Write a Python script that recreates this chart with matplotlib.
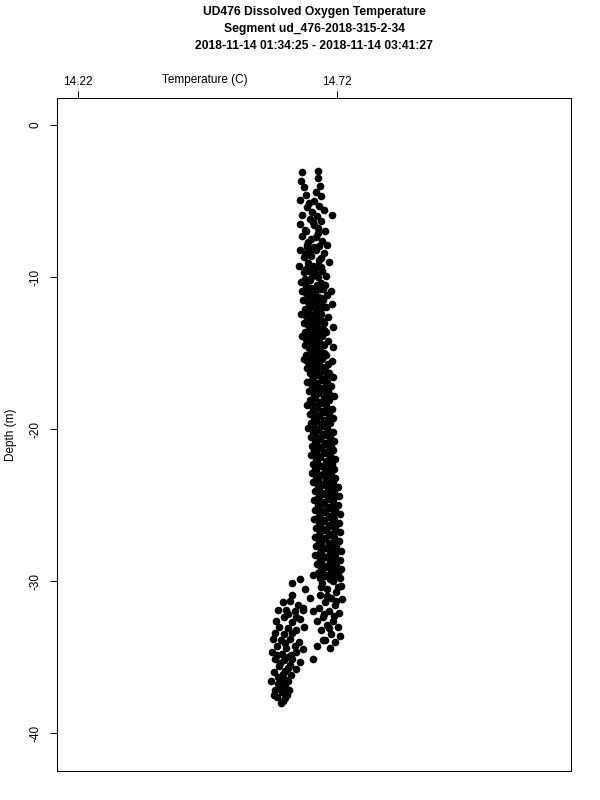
import matplotlib
matplotlib.use("Agg")
import matplotlib.pyplot as plt

# Readings, as (temperature C, depth m).
column_top = [
    (14.652, -3.1), (14.684, -3.0), (14.683, -3.5), (14.651, -3.7),
    (14.688, -4.0), (14.656, -4.1), (14.680, -4.4), (14.661, -4.6),
    (14.690, -4.7), (14.649, -4.9), (14.676, -5.0), (14.665, -5.1),
    (14.686, -5.3), (14.663, -5.4), (14.694, -5.6), (14.672, -5.7),
    (14.652, -5.9), (14.681, -6.0), (14.711, -5.9), (14.667, -6.2),
    (14.689, -6.3), (14.674, -6.4), (14.648, -6.5), (14.676, -6.6),
    (14.683, -6.8), (14.659, -6.9), (14.697, -7.0), (14.683, -7.1),
    (14.653, -7.3), (14.670, -7.5), (14.691, -7.6), (14.664, -7.7),
    (14.701, -7.9), (14.662, -7.9), (14.675, -8.0), (14.648, -8.2),
    (14.679, -8.2), (14.694, -8.4), (14.660, -8.4), (14.670, -8.6),
    (14.656, -8.7), (14.686, -8.9), (14.705, -9.0), (14.664, -9.1),
    (14.683, -9.2), (14.647, -9.3), (14.677, -9.4), (14.692, -9.6),
    (14.666, -9.6), (14.657, -9.7), (14.671, -9.9), (14.699, -9.9),
    (14.684, -10.0), (14.658, -10.1),
    (14.660, -7.0), (14.680, -7.35), (14.668, -8.3), (14.690, -8.75),
    (14.673, -9.25), (14.660, -9.5), (14.689, -9.35), (14.678, -9.75),
    (14.662, -8.05), (14.686, -7.95),
]

column_mid = [
    (14.650, -10.3), (14.668, -10.2), (14.690, -10.4),
    (14.660, -10.6), (14.679, -10.7), (14.697, -10.5),
    (14.652, -10.9), (14.673, -11.0), (14.688, -10.8), (14.709, -10.9),
    (14.664, -11.2), (14.684, -11.3), (14.700, -11.2),
    (14.655, -11.5), (14.676, -11.6), (14.693, -11.5),
    (14.668, -11.8), (14.687, -11.9), (14.711, -11.8),
    (14.658, -12.1), (14.680, -12.2), (14.698, -12.0),
    (14.651, -12.4), (14.671, -12.5), (14.690, -12.4),
    (14.664, -12.7), (14.683, -12.8), (14.702, -12.6),
    (14.656, -13.0), (14.676, -13.1), (14.694, -13.0),
    (14.668, -13.3), (14.688, -13.4), (14.712, -13.3),
    (14.659, -13.6), (14.679, -13.7), (14.698, -13.6),
    (14.653, -13.9), (14.672, -14.0), (14.691, -13.9),
    (14.665, -14.2), (14.685, -14.3), (14.703, -14.2),
    (14.658, -14.5), (14.677, -14.6), (14.695, -14.5), (14.712, -14.6),
    (14.669, -14.8), (14.689, -14.9),
    (14.661, -15.1), (14.680, -15.2), (14.699, -15.1),
    (14.656, -15.4), (14.674, -15.5), (14.692, -15.4), (14.710, -15.5),
    (14.668, -15.7), (14.686, -15.8), (14.703, -15.7),
    (14.662, -16.0), (14.680, -16.1), (14.697, -16.0),
]

column_mid_fill = [
    (14.661, -10.45), (14.681, -10.5), (14.670, -10.75), (14.693, -10.8),
    (14.660, -11.05), (14.678, -11.1), (14.668, -11.35), (14.690, -11.4),
    (14.664, -11.65), (14.681, -11.7), (14.672, -11.95), (14.693, -12.0),
    (14.664, -12.25), (14.688, -12.3), (14.660, -12.55), (14.678, -12.6),
    (14.670, -12.85), (14.692, -12.9), (14.664, -13.15), (14.682, -13.2),
    (14.673, -13.45), (14.694, -13.5), (14.665, -13.75), (14.686, -13.8),
    (14.660, -14.05), (14.680, -14.1), (14.671, -14.35), (14.690, -14.4),
    (14.665, -14.65), (14.683, -14.7), (14.675, -14.95), (14.694, -15.0),
    (14.668, -15.25), (14.686, -15.3), (14.663, -15.55), (14.680, -15.6),
    (14.674, -15.85), (14.692, -15.9),
]

column_deep = [
    (14.667, -16.3), (14.686, -16.4), (14.705, -16.3),
    (14.674, -16.6), (14.693, -16.7), (14.713, -16.6),
    (14.663, -16.9), (14.682, -17.0), (14.700, -16.9),
    (14.671, -17.2), (14.690, -17.3), (14.708, -17.2),
    (14.665, -17.5), (14.684, -17.6), (14.702, -17.5),
    (14.675, -17.8), (14.694, -17.9), (14.714, -17.8),
    (14.668, -18.1), (14.687, -18.2), (14.705, -18.1),
    (14.662, -18.4), (14.680, -18.5), (14.699, -18.4),
    (14.673, -18.7), (14.692, -18.8), (14.711, -18.7),
    (14.667, -19.0), (14.686, -19.1), (14.704, -19.0),
    (14.676, -19.3), (14.695, -19.4), (14.713, -19.3),
    (14.670, -19.6), (14.689, -19.7), (14.707, -19.6),
    (14.664, -19.9), (14.682, -20.0), (14.701, -19.9),
    (14.674, -20.2), (14.693, -20.3), (14.712, -20.2),
    (14.669, -20.5), (14.688, -20.6), (14.706, -20.5),
    (14.678, -20.8), (14.697, -20.9), (14.715, -20.8),
    (14.671, -21.1), (14.690, -21.2), (14.709, -21.1),
    (14.676, -21.4), (14.695, -21.5), (14.713, -21.4),
    (14.670, -21.7), (14.688, -21.8), (14.707, -21.7),
    (14.679, -22.0), (14.698, -22.1), (14.716, -22.0),
    (14.673, -22.3), (14.692, -22.4), (14.710, -22.3),
    (14.677, -22.6), (14.696, -22.7), (14.714, -22.6),
    (14.671, -22.9), (14.690, -23.0), (14.708, -22.9),
    (14.680, -23.2), (14.699, -23.3), (14.717, -23.2),
    (14.674, -23.5), (14.693, -23.6), (14.712, -23.5),
    (14.683, -23.8), (14.702, -23.9), (14.721, -23.8),
    (14.677, -24.1), (14.696, -24.2), (14.714, -24.1),
    (14.686, -24.4), (14.705, -24.5), (14.724, -24.4),
    (14.675, -24.7), (14.694, -24.8), (14.713, -24.7),
    (14.684, -25.0), (14.703, -25.1), (14.722, -25.0),
    (14.678, -25.3), (14.697, -25.4), (14.716, -25.3),
    (14.687, -25.6), (14.706, -25.7), (14.725, -25.6),
    (14.676, -25.9), (14.695, -26.0), (14.714, -25.9),
    (14.685, -26.2), (14.704, -26.3), (14.723, -26.2),
    (14.679, -26.5), (14.698, -26.6), (14.717, -26.5),
    (14.688, -26.8), (14.707, -26.9), (14.726, -26.8),
    (14.677, -27.1), (14.696, -27.2), (14.715, -27.1),
    (14.686, -27.4), (14.705, -27.5), (14.724, -27.4),
    (14.680, -27.7), (14.699, -27.8), (14.718, -27.7),
    (14.689, -28.0), (14.708, -28.1), (14.727, -28.0),
    (14.678, -28.3), (14.697, -28.4), (14.716, -28.3),
    (14.687, -28.6), (14.706, -28.7), (14.725, -28.6),
    (14.681, -28.9), (14.700, -29.0), (14.719, -28.9),
    (14.690, -29.2), (14.709, -29.3), (14.728, -29.2),
    (14.683, -29.5), (14.702, -29.6), (14.721, -29.5),
    (14.688, -29.8), (14.707, -29.9), (14.726, -29.8),
]

column_deep_fill = [
    (14.676, -16.15), (14.695, -16.2), (14.683, -16.45), (14.700, -16.5),
    (14.672, -16.75), (14.691, -16.8), (14.680, -17.05), (14.699, -17.1),
    (14.675, -17.35), (14.693, -17.4), (14.684, -17.65), (14.704, -17.7),
    (14.677, -17.95), (14.696, -18.0), (14.671, -18.25), (14.690, -18.3),
    (14.682, -18.55), (14.701, -18.6), (14.676, -18.85), (14.695, -18.9),
    (14.685, -19.15), (14.704, -19.2), (14.679, -19.45), (14.698, -19.5),
    (14.673, -19.75), (14.692, -19.8), (14.683, -20.05), (14.702, -20.1),
    (14.678, -20.35), (14.697, -20.4), (14.687, -20.65), (14.706, -20.7),
    (14.680, -20.95), (14.699, -21.0), (14.685, -21.25), (14.704, -21.3),
    (14.679, -21.55), (14.698, -21.6), (14.688, -21.85), (14.707, -21.9),
    (14.682, -22.15), (14.701, -22.2), (14.686, -22.45), (14.705, -22.5),
    (14.680, -22.75), (14.699, -22.8), (14.689, -23.05), (14.708, -23.1),
    (14.683, -23.35), (14.703, -23.4),
    (14.692, -23.65), (14.711, -23.7), (14.686, -23.95), (14.705, -24.0),
    (14.695, -24.25), (14.714, -24.3), (14.684, -24.55), (14.703, -24.6),
    (14.693, -24.85), (14.712, -24.9), (14.687, -25.15), (14.706, -25.2),
    (14.696, -25.45), (14.715, -25.5), (14.685, -25.75), (14.704, -25.8),
    (14.694, -26.05), (14.713, -26.1), (14.688, -26.35), (14.707, -26.4),
    (14.697, -26.65), (14.716, -26.7), (14.686, -26.95), (14.705, -27.0),
    (14.695, -27.25), (14.714, -27.3), (14.689, -27.55), (14.708, -27.6),
    (14.698, -27.85), (14.717, -27.9), (14.687, -28.15), (14.706, -28.2),
    (14.696, -28.45), (14.715, -28.5), (14.690, -28.75), (14.709, -28.8),
    (14.699, -29.05), (14.718, -29.1), (14.692, -29.35), (14.711, -29.4),
    (14.697, -29.65), (14.716, -29.7),
]

column_bottom = [
    (14.692, -30.1), (14.712, -30.0), (14.727, -30.3), (14.700, -30.5),
    (14.719, -30.7), (14.688, -30.9), (14.708, -31.1), (14.729, -31.2),
    (14.696, -31.4), (14.716, -31.6), (14.685, -31.8), (14.705, -32.0),
    (14.724, -32.1), (14.693, -32.4), (14.712, -32.6), (14.700, -32.9),
    (14.721, -33.0), (14.690, -33.2), (14.708, -33.5), (14.726, -33.6),
    (14.697, -33.9), (14.716, -34.0), (14.706, -34.4),
    (14.700, -31.0), (14.718, -31.3), (14.695, -32.2), (14.715, -32.3),
    (14.704, -33.1), (14.690, -30.4), (14.722, -30.4),
]

spread = [
    (14.674, -29.6), (14.649, -29.9), (14.633, -30.1), (14.658, -30.5),
    (14.633, -30.9), (14.668, -31.1), (14.654, -31.8), (14.674, -32.0),
    (14.681, -32.6), (14.693, -33.9), (14.681, -34.3), (14.674, -35.1),
]

bottom_cluster = [
    (14.616, -31.4), (14.630, -31.3), (14.645, -31.6), (14.622, -31.9),
    (14.638, -32.0), (14.655, -31.9), (14.602, -32.6), (14.617, -32.4),
    (14.633, -32.7), (14.648, -32.5), (14.609, -33.0), (14.625, -33.1),
    (14.641, -33.2), (14.657, -33.0), (14.600, -33.4), (14.618, -33.5),
    (14.596, -33.8), (14.612, -33.9), (14.630, -33.8), (14.646, -34.0),
    (14.605, -34.3), (14.622, -34.4), (14.638, -34.3), (14.654, -34.5),
    (14.594, -34.7), (14.614, -34.8), (14.631, -34.9), (14.600, -35.1),
    (14.617, -35.2), (14.634, -35.1), (14.648, -35.3), (14.608, -35.6),
    (14.625, -35.7), (14.641, -35.8), (14.598, -36.0), (14.615, -36.1),
    (14.632, -36.2), (14.622, -36.5), (14.593, -36.6), (14.607, -36.8),
    (14.620, -36.9), (14.600, -37.2), (14.614, -37.3), (14.628, -37.2),
    (14.605, -37.6), (14.619, -37.7), (14.611, -38.0),
    (14.606, -31.9), (14.640, -32.4), (14.626, -32.2), (14.634, -33.4),
    (14.620, -34.1), (14.605, -34.9), (14.625, -35.0), (14.640, -34.7),
    (14.610, -35.4), (14.630, -35.5), (14.620, -35.9), (14.607, -36.3),
    (14.626, -36.6), (14.612, -37.0), (14.598, -37.5), (14.624, -37.5),
    (14.615, -37.9), (14.612, -36.6),
]

temp_ticks = [14.22, 14.72]
depth_ticks = [0, -10, -20, -30, -40]

title_lines = [
    "UD476 Dissolved Oxygen Temperature",
    "Segment ud_476-2018-315-2-34",
    "2018-11-14 01:34:25 - 2018-11-14 03:41:27",
]

plt.rcParams["font.family"] = ["Liberation Sans", "DejaVu Sans"]

fig = plt.figure(figsize=(6, 8), dpi=100)
ax = fig.add_axes([57 / 600, 29 / 800, 514 / 600, 673 / 800])

segments = [column_top, column_mid, column_mid_fill, column_deep,
            column_deep_fill, column_bottom, spread, bottom_cluster]
for seg in segments:
    temps = [p[0] for p in seg]
    depths = [p[1] for p in seg]
    ax.plot(temps, depths, "o", color="black", markersize=5.5, markeredgewidth=0)

ax.set_xlim(14.1795, 15.1717)
ax.set_ylim(-42.5, 1.78)

# Temperature axis on top, only two ticks
ax.xaxis.tick_top()
ax.set_xticks(temp_ticks)
ax.set_xticklabels([f"{t:.2f}" for t in temp_ticks])
ax.set_yticks(depth_ticks)
ax.set_yticklabels([str(d) for d in depth_ticks], rotation=90, va="center")
ax.tick_params(axis="both", labelsize=8.5, length=5, width=0.75, color="black")
ax.tick_params(axis="x", pad=2.5)
ax.tick_params(axis="y", pad=6)
ax.set_ylabel("Depth (m)", fontsize=8.5, labelpad=9)
for s in ax.spines.values():
    s.set_linewidth(0.75)

fig.text(205 / 600, 1 - 80 / 800, "Temperature (C)", fontsize=8.5, ha="center", va="center")

for i, line in enumerate(title_lines):
    fig.text(314 / 600, 1 - (12 + 17 * i) / 800, line, fontsize=8.7,
             fontweight="bold", ha="center", va="center")

fig.savefig("out.png", dpi=100)
